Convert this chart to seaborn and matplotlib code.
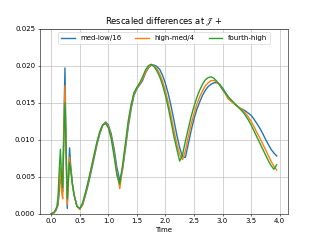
import matplotlib
matplotlib.use("Agg")
import matplotlib.pyplot as plt
import seaborn as sns
import pandas as pd
import numpy as np

time = [0.00, 0.05, 0.08, 0.10, 0.12, 0.14, 0.16, 0.18, 0.20, 0.22, 0.24, 0.26, 0.28,
        0.30, 0.32, 0.34, 0.37, 0.40, 0.45, 0.50, 0.55, 0.60, 0.65, 0.70, 0.75, 0.80,
        0.85, 0.90, 0.95, 1.00, 1.05, 1.10, 1.15, 1.20, 1.25, 1.30, 1.35, 1.40, 1.45,
        1.50, 1.55, 1.60, 1.65, 1.70, 1.75, 1.80, 1.85, 1.90, 1.95, 2.00, 2.05, 2.10,
        2.15, 2.20, 2.25, 2.30, 2.35, 2.40, 2.45, 2.50, 2.55, 2.60, 2.65, 2.70, 2.75,
        2.80, 2.85, 2.90, 2.95, 3.00, 3.05, 3.10, 3.15, 3.20, 3.25, 3.30, 3.35, 3.40,
        3.45, 3.50, 3.55, 3.60, 3.65, 3.70, 3.75, 3.80, 3.85, 3.90, 3.95]

med_low_16 = [0.0000, 0.0001, 0.0004, 0.0008, 0.0012, 0.0030, 0.0055, 0.0040, 0.0030, 0.0120,
              0.0197, 0.0080, 0.0007, 0.0050, 0.0089, 0.0065, 0.0040, 0.0025, 0.0010, 0.0006,
              0.0012, 0.0025, 0.0040, 0.0057, 0.0075, 0.0093, 0.0108, 0.0119, 0.0124, 0.0120,
              0.0108, 0.0088, 0.0062, 0.0045, 0.0060, 0.0088, 0.0118, 0.0142, 0.0160, 0.0169,
              0.0174, 0.0180, 0.0190, 0.0197, 0.0201, 0.0201, 0.0199, 0.0195, 0.0187, 0.0176,
              0.0162, 0.0145, 0.0126, 0.0106, 0.0089, 0.0077, 0.0076, 0.0094, 0.0112, 0.0128,
              0.0141, 0.0151, 0.0160, 0.0167, 0.0172, 0.0175, 0.0177, 0.0177, 0.0175, 0.0170,
              0.0164, 0.0158, 0.0153, 0.0149, 0.0146, 0.0143, 0.0141, 0.0139, 0.0136, 0.0133,
              0.0128, 0.0122, 0.0116, 0.0109, 0.0101, 0.0094, 0.0087, 0.0082, 0.0078]

high_med_4 = [0.0000, 0.0001, 0.0005, 0.0009, 0.0015, 0.0040, 0.0062, 0.0030, 0.0020, 0.0110,
              0.0173, 0.0085, 0.0012, 0.0045, 0.0076, 0.0062, 0.0040, 0.0026, 0.0010, 0.0006,
              0.0013, 0.0027, 0.0043, 0.0060, 0.0078, 0.0095, 0.0110, 0.0120, 0.0123, 0.0118,
              0.0104, 0.0082, 0.0055, 0.0034, 0.0062, 0.0092, 0.0122, 0.0145, 0.0162, 0.0170,
              0.0175, 0.0182, 0.0191, 0.0198, 0.0201, 0.0200, 0.0196, 0.0189, 0.0179, 0.0166,
              0.0150, 0.0132, 0.0112, 0.0094, 0.0080, 0.0073, 0.0085, 0.0104, 0.0121, 0.0135,
              0.0148, 0.0158, 0.0166, 0.0173, 0.0177, 0.0180, 0.0180, 0.0178, 0.0174, 0.0168,
              0.0162, 0.0155, 0.0152, 0.0149, 0.0146, 0.0143, 0.0140, 0.0136, 0.0131, 0.0125,
              0.0118, 0.0110, 0.0103, 0.0095, 0.0087, 0.0079, 0.0071, 0.0064, 0.0059]

fourth_high = [0.0000, 0.0002, 0.0006, 0.0010, 0.0025, 0.0060, 0.0087, 0.0050, 0.0035, 0.0100,
               0.0150, 0.0090, 0.0020, 0.0045, 0.0069, 0.0060, 0.0040, 0.0025, 0.0010, 0.0007,
               0.0015, 0.0029, 0.0045, 0.0062, 0.0080, 0.0097, 0.0111, 0.0120, 0.0122, 0.0116,
               0.0101, 0.0078, 0.0052, 0.0040, 0.0066, 0.0096, 0.0126, 0.0148, 0.0164, 0.0171,
               0.0177, 0.0185, 0.0194, 0.0200, 0.0202, 0.0199, 0.0193, 0.0185, 0.0174, 0.0160,
               0.0143, 0.0124, 0.0104, 0.0087, 0.0071, 0.0080, 0.0098, 0.0115, 0.0131, 0.0145,
               0.0157, 0.0167, 0.0175, 0.0181, 0.0184, 0.0185, 0.0183, 0.0179, 0.0174, 0.0168,
               0.0163, 0.0158, 0.0154, 0.0150, 0.0146, 0.0142, 0.0138, 0.0133, 0.0127, 0.0120,
               0.0112, 0.0104, 0.0096, 0.0088, 0.0080, 0.0072, 0.0065, 0.0060, 0.0066]

labels = ["med-low/16", "high-med/4", "fourth-high"]
series = [med_low_16, high_med_4, fourth_high]
colors = ["#1f77b4", "#ff7f0e", "#2ca02c"]

fig, ax = plt.subplots(figsize=(6.4, 4.8), dpi=50)
for lab, vals, c in zip(labels, series, colors):
    df = pd.DataFrame({"Time": time, "value": vals})
    sns.lineplot(data=df, x="Time", y="value", ax=ax, color=c, label=lab,
                 linewidth=2.0, estimator=None)

ax.set_ylim(0, 0.025)
ax.set_xlabel("Time")
ax.set_ylabel("")
ax.grid(True)
ax.set_title(r"Rescaled differences at $\mathscr{J}+$")
ax.legend(loc="upper center", ncol=3)
fig.savefig("out.png", dpi=50)
